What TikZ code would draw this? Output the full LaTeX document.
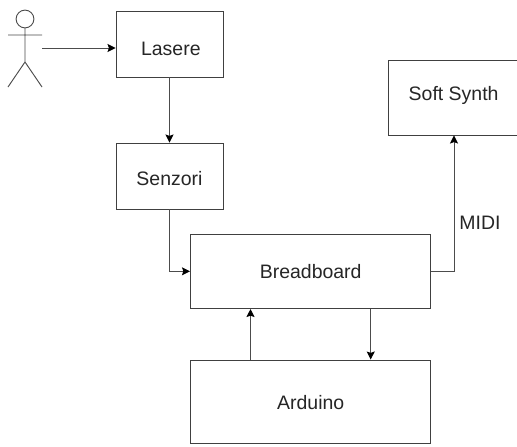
\documentclass[tikz,border=0pt]{standalone}
\usepackage{fontspec}
\setmainfont{Liberation Sans}
\usetikzlibrary{arrows.meta}
\tikzset{
  txt/.style={text=black!85,font=\fontsize{14.6pt}{16pt}\selectfont,inner sep=0pt},
  blockbox/.style={draw=black!75,line width=0.7pt,fill=white,inner sep=0pt},
  conn/.style={draw=black!70,line width=0.7pt,-{Stealth[length=6pt,width=6pt,inset=1pt,color=black]}},
  px/.style={x=0.75pt,y=-0.75pt}
}
\begin{document}
\begin{tikzpicture}[px]
\useasboundingbox (0,0) rectangle (517,446);
\fill[white] (0,0) rectangle (517,446);
% name, cx, cy, w, h, text, text dx (pt), text dy (pt, down)
\def\boxat#1#2#3#4#5#6#7#8{\node[blockbox,minimum width=#4*0.75pt,minimum height=#5*0.75pt,
   label={[txt,xshift=#7pt,yshift=-#8pt]center:#6}] (#1) at (#2,#3) {};}
\boxat{las}{169.5}{44}{107}{66}{Lasere}{1}{3.5}
\boxat{sen}{169.5}{176}{107}{66}{Senzori}{0}{2.2}
\boxat{bre}{310.7}{271.3}{240.5}{74.5}{Breadboard}{0}{0.5}
\boxat{ard}{310.7}{401.5}{240.5}{83}{Arduino}{0}{1}
\boxat{syn}{454}{97.5}{132}{75}{Soft Synth}{-0.3}{-1.3}
\node[txt] (midi) at (480,222.5) {MIDI};
% actor
\draw[draw=black!70,line width=0.7pt] (25,19) circle [radius=8.9];
\coordinate (neck) at (25,28);
\coordinate (hip) at (25,62);
\coordinate (arml) at (8,35);
\coordinate (armr) at (42,35);
\coordinate (footl) at (8,87);
\coordinate (footr) at (42,87);
\draw[draw=black!70,line width=0.7pt] (neck) -- (hip) (arml) -- (armr) (footl) -- (hip) -- (footr);
\coordinate (actor) at (42,48);
\draw[conn] (actor) -- (las.west |- actor);
\draw[conn] (las.south) -- (sen.north);
\draw[conn] (sen.south) |- (bre.west);
\draw[conn] (bre.east) -| (syn.south);
\coordinate (a) at (250.5,0);
\coordinate (b) at (370.7,0);
\draw[conn] (ard.north -| a) -- (bre.south -| a);
\draw[conn] (bre.south -| b) -- (ard.north -| b);
\end{tikzpicture}
\end{document}
